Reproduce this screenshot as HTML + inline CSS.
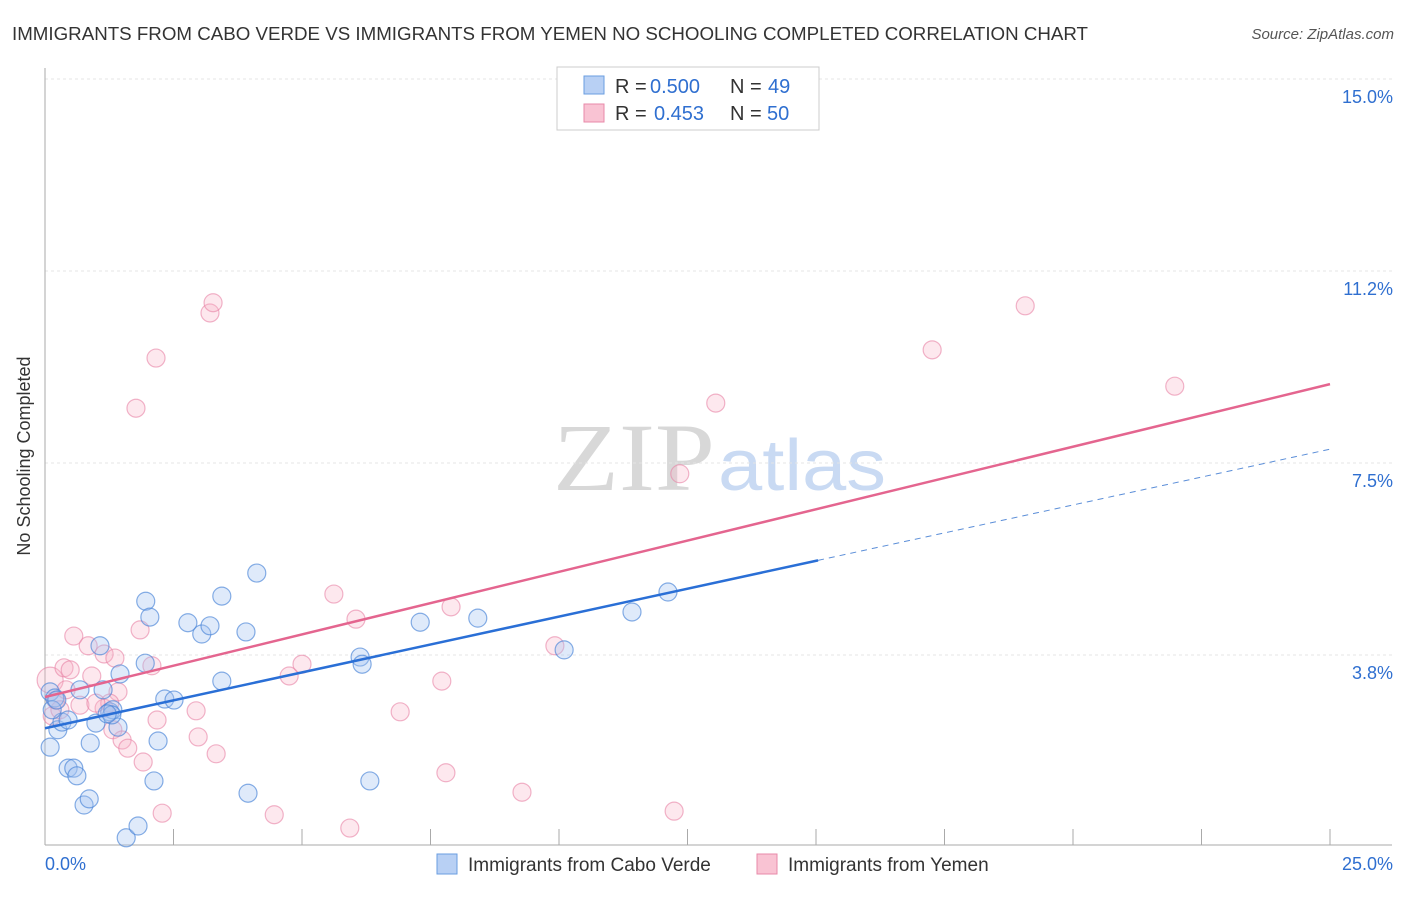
<!DOCTYPE html>
<html><head><meta charset="utf-8"><style>
body{margin:0;background:#fff;font-family:"Liberation Sans",sans-serif}
</style></head><body>
<svg width="1406" height="892" id="chart" font-family="Liberation Sans, sans-serif">
<text x="12" y="40" font-size="18" fill="#333" textLength="1076" lengthAdjust="spacingAndGlyphs">IMMIGRANTS FROM CABO VERDE VS IMMIGRANTS FROM YEMEN NO SCHOOLING COMPLETED CORRELATION CHART</text>
<text x="1394" y="39" font-size="15" fill="#555" font-style="italic" text-anchor="end">Source: ZipAtlas.com</text>
<text x="30" y="456" font-size="18" fill="#333" text-anchor="middle" transform="rotate(-90 30 456)">No Schooling Completed</text>
<g><text x="553" y="490" font-size="96" fill="#d8d8d8" font-family="Liberation Serif, serif" textLength="162" lengthAdjust="spacingAndGlyphs">ZIP</text><text x="718" y="490" font-size="72" fill="#c9daf3" textLength="168" lengthAdjust="spacingAndGlyphs">atlas</text></g>
<g id="grid"></g><g id="axes"></g><g id="pts"></g><g id="lines"></g>
<g>
<rect x="557" y="67" width="262" height="63" fill="#fff" stroke="#ccc"/>
<rect x="584" y="76" width="20" height="18" fill="#b8d0f4" stroke="#6a9ee0"/>
<rect x="584" y="104" width="20" height="18" fill="#f9c3d3" stroke="#e88aa8"/>
<text x="615" y="93" font-size="20" fill="#333">R =</text>
<text x="650" y="93" font-size="20" fill="#2f6fd0">0.500</text>
<text x="730" y="93" font-size="20" fill="#333">N =</text>
<text x="768" y="93" font-size="20" fill="#2f6fd0">49</text>
<text x="615" y="120" font-size="20" fill="#333">R =</text>
<text x="654" y="120" font-size="20" fill="#2f6fd0">0.453</text>
<text x="730" y="120" font-size="20" fill="#333">N =</text>
<text x="767" y="120" font-size="20" fill="#2f6fd0">50</text>
</g>
<g>
<rect x="437" y="854" width="20" height="20" fill="#b8d0f4" stroke="#6a9ee0"/>
<text x="468" y="871" font-size="19" fill="#333">Immigrants from Cabo Verde</text>
<rect x="757" y="854" width="20" height="20" fill="#f9c3d3" stroke="#e88aa8"/>
<text x="788" y="871" font-size="19" fill="#333">Immigrants from Yemen</text>
</g>
</svg>
<script>
const yTicks=[3.75,7.5,11.25,15];
const yTickLabels=["3.8%","7.5%","11.2%","15.0%"];
const xTicks=[0,2.5,5,7.5,10,12.5,15,17.5,20,22.5,25];
const blueX=[0.10,0.19,0.25,0.10,0.33,0.45,0.45,0.56,0.62,0.76,0.86,0.68,0.88,0.99,1.13,1.07,1.26,1.32,1.42,1.46,1.58,1.81,1.95,1.96,2.04,2.12,2.20,2.33,2.51,2.78,3.05,3.21,3.44,3.44,3.91,3.95,4.12,6.13,6.17,6.32,7.30,8.42,10.10,11.42,12.12,0.14,1.30,0.23,1.21];
const blueY=[3.03,2.91,2.29,1.95,2.44,2.48,1.54,1.54,1.39,0.82,0.94,3.07,2.03,2.42,3.07,3.93,2.64,2.68,2.34,3.38,0.18,0.41,3.59,4.80,4.49,1.29,2.07,2.89,2.87,4.38,4.16,4.32,4.90,3.24,4.20,1.05,5.35,3.71,3.57,1.29,4.39,4.47,3.85,4.59,4.98,2.68,2.58,2.87,2.60];
const pinkX=[0.10,0.14,0.21,0.37,0.49,0.56,0.68,0.84,0.91,1.15,1.36,1.42,1.15,1.26,1.32,1.50,1.61,1.91,1.85,2.08,2.18,2.28,1.77,2.16,2.94,2.98,3.21,3.27,3.33,4.46,4.75,5.00,5.62,5.93,6.05,6.91,7.72,7.80,7.90,9.28,9.92,12.24,12.35,13.05,17.26,19.07,21.98,0.29,0.99,0.41];
const pinkY=[3.26,2.56,2.87,3.50,3.46,4.12,2.77,3.93,3.34,3.77,3.69,3.03,2.71,2.81,2.29,2.09,1.93,1.66,4.24,3.54,2.48,0.66,8.57,9.55,2.66,2.15,10.43,10.63,1.82,0.63,3.34,3.57,4.94,0.37,4.45,2.64,3.24,1.45,4.69,1.07,3.93,0.70,7.29,8.67,9.71,10.57,9.00,2.68,2.81,3.07];
const blueTrend=[2.32,7.77]; const blueSolidEnd=15.04;
const pinkTrend=[2.93,9.04];
const X=v=>45+v*51.4, Y=v=>847-v*51.2;
const NS="http://www.w3.org/2000/svg";
function mk(t,a,p){const e=document.createElementNS(NS,t);for(const k in a)e.setAttribute(k,a[k]);p.appendChild(e);return e;}
const grid=document.getElementById('grid'),axes=document.getElementById('axes'),pts=document.getElementById('pts'),lines=document.getElementById('lines');
yTicks.forEach((v,i)=>{
 const l=mk('line',{x1:45,x2:1392,y1:Y(v),y2:Y(v),stroke:'#e4e4e4','stroke-dasharray':'3 3'},grid);
 
 
 const t=mk('text',{x:1393,y:Y(v)+24,'font-size':18,fill:'#2f6fd0','text-anchor':'end'},grid);t.textContent=yTickLabels[i];
 
 
});
const la=mk('line',{x1:45,x2:45,y1:68,y2:845,stroke:'#aaa'},axes);


const ba=mk('line',{x1:45,x2:1392,y1:845,y2:845,stroke:'#aaa'},axes);


xTicks.forEach(v=>{const t=mk('line',{x1:X(v),x2:X(v),y1:829,y2:845,stroke:'#aaa'},axes);
 
 });
const x0=mk('text',{x:45,y:870,'font-size':18,fill:'#2f6fd0'},axes);x0.textContent='0.0%';


const x1=mk('text',{x:1393,y:870,'font-size':18,fill:'#2f6fd0','text-anchor':'end'},axes);x1.textContent='25.0%';


pinkX.forEach((v,i)=>{const c=mk('circle',{cx:X(v),cy:Y(pinkY[i]),r:i===0?13:9,fill:'rgba(248,180,200,0.3)',stroke:'rgba(232,130,165,0.6)','stroke-width':1.2},pts);
 
 });
blueX.forEach((v,i)=>{const c=mk('circle',{cx:X(v),cy:Y(blueY[i]),r:9,fill:'rgba(164,196,240,0.35)',stroke:'rgba(70,130,215,0.65)','stroke-width':1.2},pts);
 
 });
const bAt=x=>blueTrend[0]+(blueTrend[1]-blueTrend[0])*x/25;
const pl=mk('line',{x1:X(0),y1:Y(pinkTrend[0]),x2:X(25),y2:Y(pinkTrend[1]),stroke:'#e4658f','stroke-width':2.5},lines);


const bl=mk('line',{x1:X(0),y1:Y(bAt(0)),x2:X(blueSolidEnd),y2:Y(bAt(blueSolidEnd)),stroke:'#2a6fd6','stroke-width':2.5},lines);


const bd=mk('line',{x1:X(blueSolidEnd),y1:Y(bAt(blueSolidEnd)),x2:X(25),y2:Y(bAt(25)),stroke:'#5b8ed8','stroke-width':1,'stroke-dasharray':'6 5'},lines);


</script>
</body></html>
